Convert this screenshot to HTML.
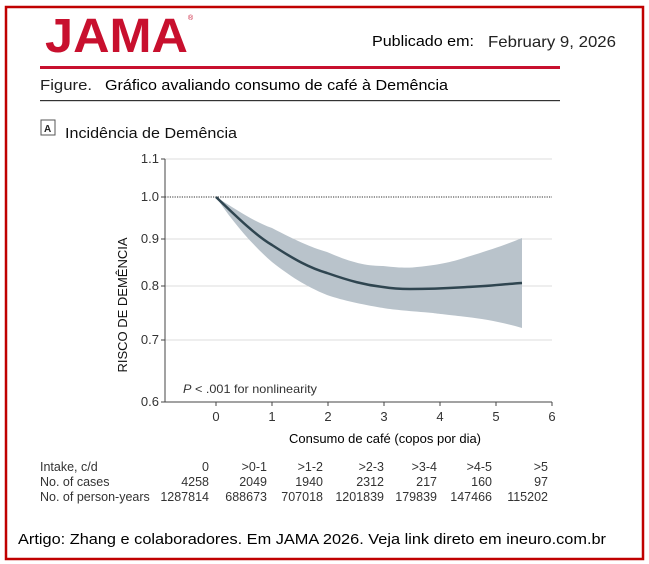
<!DOCTYPE html>
<html><head><meta charset="utf-8"><style>
body{margin:0;background:#fff;}
svg{display:block;}
</style></head><body>
<svg width="649" height="564" xmlns="http://www.w3.org/2000/svg" font-family="Liberation Sans, sans-serif">
<rect x="0" y="0" width="649" height="564" fill="#fff"/>
<rect x="6" y="7" width="637" height="552" fill="none" stroke="#c00000" stroke-width="2.5"/>
<text x="45" y="52" font-size="48" font-weight="bold" fill="#c8102e" textLength="143" lengthAdjust="spacingAndGlyphs">JAMA</text>
<text x="188" y="20" font-size="7" fill="#c8102e">®</text>
<text x="372" y="46" font-size="15" fill="#000" textLength="102" lengthAdjust="spacingAndGlyphs">Publicado em:</text>
<text x="488" y="47" font-size="16" fill="#222" textLength="128" lengthAdjust="spacingAndGlyphs">February 9, 2026</text>
<rect x="40" y="66" width="520" height="3" fill="#c8102e"/>
<text x="40" y="90" font-size="15" fill="#222" textLength="52" lengthAdjust="spacingAndGlyphs">Figure.</text>
<text x="105" y="90" font-size="15" fill="#000" textLength="343" lengthAdjust="spacingAndGlyphs">Gráfico avaliando consumo de café à Demência</text>
<rect x="40" y="100" width="520" height="1.2" fill="#333"/>
<rect x="41" y="120" width="14" height="15" fill="#fff" stroke="#555" stroke-width="1"/>
<text x="44" y="132" font-size="10" font-weight="bold" fill="#222">A</text>
<text x="65" y="138" font-size="15" fill="#111" textLength="172" lengthAdjust="spacingAndGlyphs">Incidência de Demência</text>
<g stroke="#ddd" stroke-width="1">
<line x1="165" y1="159" x2="552" y2="159"/>
<line x1="165" y1="239" x2="552" y2="239"/>
<line x1="165" y1="286" x2="552" y2="286"/>
<line x1="165" y1="340" x2="552" y2="340"/>
</g>
<line x1="165" y1="197" x2="552" y2="197" stroke="#333" stroke-width="1" stroke-dasharray="1.2,1.2"/>
<path d="M216,197 C240,212 255,222 272,228 C295,240 310,247 327,252 C350,262 365,266 383,266 C400,268 410,268 417,267 C440,265 455,261 467,257 C490,250 505,245 522,238 L522,328 C505,323 485,319 467,317 C450,315 440,314 433,313 C410,311 395,310 383,308 C360,304 345,301 327,295 C305,286 290,276 272,262 C250,243 230,218 216,197 Z" fill="#b9c3cb"/>
<path d="M216,197 C235,215 255,235 272,245 C295,260 310,268 327,273 C350,281 365,285 383,287 C395,289 402,289 410,289 C435,289 450,288 467,287 C490,286 505,284 522,283" fill="none" stroke="#2f4550" stroke-width="2.5"/>
<g stroke="#444" stroke-width="1">
<line x1="165" y1="159" x2="165" y2="402"/>
<line x1="165" y1="402" x2="552" y2="402"/>
<line x1="161" y1="159" x2="165" y2="159"/><line x1="161" y1="197" x2="165" y2="197"/>
<line x1="161" y1="239" x2="165" y2="239"/><line x1="161" y1="286" x2="165" y2="286"/>
<line x1="161" y1="340" x2="165" y2="340"/><line x1="161" y1="402" x2="165" y2="402"/>
<line x1="216" y1="402" x2="216" y2="406"/><line x1="272" y1="402" x2="272" y2="406"/>
<line x1="328" y1="402" x2="328" y2="406"/><line x1="384" y1="402" x2="384" y2="406"/>
<line x1="440" y1="402" x2="440" y2="406"/><line x1="496" y1="402" x2="496" y2="406"/>
<line x1="552" y1="402" x2="552" y2="406"/>
</g>
<g font-size="13" fill="#333" text-anchor="end">
<text x="159" y="163">1.1</text><text x="159" y="201">1.0</text>
<text x="159" y="243">0.9</text><text x="159" y="290">0.8</text>
<text x="159" y="344">0.7</text><text x="159" y="406">0.6</text>
</g>
<g font-size="13" fill="#333" text-anchor="middle">
<text x="216" y="421">0</text><text x="272" y="421">1</text><text x="328" y="421">2</text>
<text x="384" y="421">3</text><text x="440" y="421">4</text><text x="496" y="421">5</text><text x="552" y="421">6</text>
</g>
<text x="183" y="393" font-size="12" fill="#333" textLength="134" lengthAdjust="spacingAndGlyphs"><tspan font-style="italic">P</tspan> &lt; .001 for nonlinearity</text>
<text transform="translate(127,305) rotate(-90)" font-size="13" fill="#111" text-anchor="middle">RISCO DE DEMÊNCIA</text>
<text x="289" y="443" font-size="13" fill="#000" textLength="192" lengthAdjust="spacingAndGlyphs">Consumo de café (copos por dia)</text>
<g font-size="12.5" fill="#333">
<text x="40" y="471">Intake, c/d</text>
<text x="40" y="486">No. of cases</text>
<text x="40" y="501">No. of person-years</text>
</g>
<g font-size="12.5" fill="#333" text-anchor="end">
<text x="209" y="471">0</text><text x="267" y="471">&gt;0-1</text><text x="323" y="471">&gt;1-2</text><text x="384" y="471">&gt;2-3</text><text x="437" y="471">&gt;3-4</text><text x="492" y="471">&gt;4-5</text><text x="548" y="471">&gt;5</text>
<text x="209" y="486">4258</text><text x="267" y="486">2049</text><text x="323" y="486">1940</text><text x="384" y="486">2312</text><text x="437" y="486">217</text><text x="492" y="486">160</text><text x="548" y="486">97</text>
<text x="209" y="501">1287814</text><text x="267" y="501">688673</text><text x="323" y="501">707018</text><text x="384" y="501">1201839</text><text x="437" y="501">179839</text><text x="492" y="501">147466</text><text x="548" y="501">115202</text>
</g>
<text x="18" y="544" font-size="15" fill="#000" textLength="588" lengthAdjust="spacingAndGlyphs">Artigo: Zhang e colaboradores. Em JAMA 2026. Veja link direto em ineuro.com.br</text>
</svg>
</body></html>
